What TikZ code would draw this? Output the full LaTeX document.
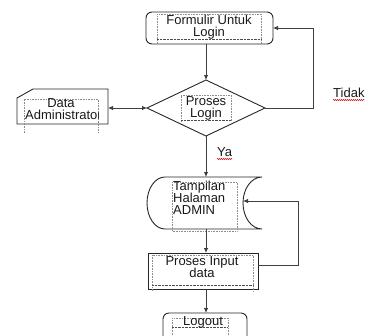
\documentclass[tikz,border=0pt]{standalone}
\usepackage{fontspec}
\setmainfont{Liberation Sans}
\usetikzlibrary{arrows.meta,shapes.geometric,decorations.pathmorphing}
\begin{document}
\begin{tikzpicture}[x=1pt,y=-1pt,
  shapeline/.style={draw=black!85, line width=0.9pt},
  plainbox/.style={inner sep=0pt, outer sep=0pt},
  conn/.style={draw=black!75, line width=0.8pt},
  arr/.style={-{Latex[length=5pt,width=4.5pt]}},
  darr/.style={{Latex[length=5pt,width=4.5pt]}-{Latex[length=5pt,width=4.5pt]}},
  dotbox/.style={draw=black!45, line width=0.5pt, dash pattern=on 0.8pt off 0.8pt},
  dotbase/.style={draw=black!70, line width=0.8pt, dash pattern=on 0.8pt off 0.6pt},
  txt/.style={font=\fontsize{13}{12}\selectfont, inner sep=0pt, text=black!90},
  squig/.style={draw=red!80!black, line width=0.4pt, decorate, decoration={zigzag, segment length=2pt, amplitude=0.6pt}}]
\useasboundingbox (0,0) rectangle (366,335);
\clip (0,0) rectangle (366,335);

% Formulir Untuk Login
\node[shapeline, plainbox, rounded corners=6pt, minimum width=127pt, minimum height=32pt] (form) at (209.5,28) {};
\draw[dotbox] (157,44) -- (157,14) -- (261,14) -- (261,44);
\draw[dotbase] (157,39) -- (261,39);
\node[txt, align=center] (formt) at (209,27) {Formulir Untuk\\Login};

% Proses Login
\node[diamond, shapeline, plainbox, minimum width=118pt, minimum height=56pt] (dia) at (206,108) {};
\draw[dotbox] (181,122) -- (181,95) -- (231,95) -- (231,122);
\draw[dotbase] (181,120) -- (231,120);
\node[txt, align=center] (diat) at (206,108) {Proses\\Login};

% Data Administrator
\node[plainbox, minimum width=91pt, minimum height=35pt] (data) at (62.5,106.5) {};
\draw[shapeline] ([xshift=16pt]data.north west) -- (data.north east) -- (data.south east)
  -- (data.south west) -- ([yshift=-9pt]data.north west) -- cycle;
\draw[dotbox] (24,133) -- (24,99) -- (98,99) -- (98,133);
\begin{scope}
  \clip (24,95) rectangle (98,135);
  \node[txt, anchor=base] (datat1) at (61,107.5) {Data};
  \node[txt, anchor=base west] (datat2) at (25,119.5) {Administrator};
\end{scope}

% Tampilan Halaman ADMIN
\node[plainbox, minimum width=115pt, minimum height=52pt] (tamp) at (204.5,203) {};
\draw[shapeline] (165,177) -- (262,177)
  .. controls (251.5,177) and (243,188.6) .. (243,203)
  .. controls (243,217.4) and (251.5,229) .. (262,229)
  -- (165,229)
  .. controls (155,229) and (147,217.4) .. (147,203)
  .. controls (147,188.6) and (155,177) .. (165,177) -- cycle;
\draw[dotbox] (172,182) rectangle (237,231);
\node[txt, anchor=base west] (tt1) at (173,190.5) {Tampilan};
\node[txt, anchor=base west] (tt2) at (173,202.5) {Halaman};
\node[txt, anchor=base west] (tt3) at (173,214.5) {ADMIN};

% Proses Input data
\node[shapeline, plainbox, minimum width=110pt, minimum height=36pt] (proc) at (203,271) {};
\draw[dotbox] (152,291) -- (152,255) -- (253,255) -- (253,291);
\draw[dotbase] (152,285) -- (253,285);
\node[txt, anchor=base] (proct1) at (202,265.5) {Proses Input};
\node[txt, anchor=base] (proct2) at (202,277.5) {data};

% Logout
\node[shapeline, plainbox, rounded corners=6pt, minimum width=84pt, minimum height=36pt] (logout) at (205,331) {};
\draw[dotbox] (172,340) -- (172,318) -- (228,318) -- (228,340);
\draw[dotbase] (172,327) -- (228,327);
\node[txt, anchor=base] (logt) at (203,325) {Logout};

% Labels
\node[txt, anchor=base west] (ya) at (217,156.5) {Ya};
\draw[squig] ([yshift=-2.5pt]ya.base west) -- ([yshift=-2.5pt]ya.base east);
\node[txt, anchor=base west] (tidak) at (333,97.5) {Tidak};
\draw[squig] ([yshift=-2.5pt]tidak.base west) -- ([yshift=-2.5pt]tidak.base east);

% Connectors
\coordinate (r1) at (313,28);
\coordinate (r2) at (298,201);
\coordinate (tin) at (243,201);
\draw[conn, arr] (form.south -| dia.north) -- (dia.north);
\draw[conn, darr] (data.east |- dia.west) -- (dia.west);
\draw[conn, arr] (dia.east) -| (r1) -- (form.east);
\draw[conn, arr] (dia.south) -- (dia.south |- tamp.north);
\draw[conn, arr] (tamp.south -| dia.south) -- (proc.north -| dia.south);
\draw[conn, arr] ([yshift=6pt]proc.east) -| (r2) -- (tin);
\draw[conn, arr] (proc.south -| dia.south) -- (logout.north -| dia.south);
\end{tikzpicture}
\end{document}
